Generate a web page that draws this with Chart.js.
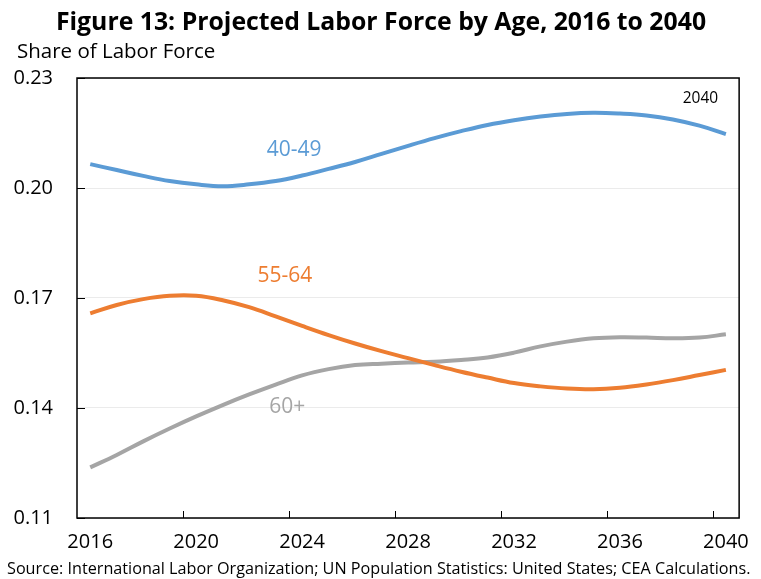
<!DOCTYPE html>
<html>
<head>
<meta charset="utf-8">
<style>
  html, body { margin: 0; padding: 0; background: #fff; }
  #wrap { width: 761px; height: 579px; }
</style>
<script src="https://cdn.jsdelivr.net/npm/chart.js@4.4.1/dist/chart.umd.min.js"></script>
</head>
<body>
<div id="wrap"><canvas id="c" width="761" height="579"></canvas></div>
<script>
// Labor force share by age group, annual projections
const years = [2016, 2017, 2018, 2019, 2020, 2021, 2022, 2023, 2024, 2025, 2026, 2027, 2028,
               2029, 2030, 2031, 2032, 2033, 2034, 2035, 2036, 2037, 2038, 2039, 2040];

const age40to49 = [0.2065, 0.2049, 0.2033, 0.2019, 0.2010, 0.2005, 0.2010, 0.2019, 0.2034, 0.2052,
                   0.2071, 0.2093, 0.2115, 0.2136, 0.2155, 0.2172, 0.2185, 0.2195, 0.2202, 0.2205,
                   0.2203, 0.2198, 0.2187, 0.2170, 0.2147];

const age55to64 = [0.1658, 0.1681, 0.1697, 0.1706, 0.1706, 0.1694, 0.1675, 0.1650, 0.1624, 0.1599,
                   0.1576, 0.1555, 0.1536, 0.1517, 0.1499, 0.1483, 0.1468, 0.1459, 0.1453, 0.1451,
                   0.1455, 0.1464, 0.1476, 0.1490, 0.1504];

const age60plus = [0.1238, 0.1272, 0.1309, 0.1344, 0.1377, 0.1408, 0.1437, 0.1464, 0.1489, 0.1506,
                   0.1517, 0.1521, 0.1524, 0.1526, 0.1531, 0.1538, 0.1551, 0.1568, 0.1581, 0.1590,
                   0.1593, 0.1592, 0.1590, 0.1592, 0.1601];

const yTickValues = [0.11, 0.14, 0.17, 0.20, 0.23];
const xTickYears = [2016, 2020, 2024, 2028, 2032, 2036, 2040];

const seriesNames = ['40-49', '55-64', '60+'];

const FONT = '"Open Sans", Lato, sans-serif';
const BLUE = '#5B9BD5', ORANGE = '#ED7D31', GRAY = '#A5A5A5';

Chart.defaults.color = '#000';
Chart.defaults.font.family = FONT;

// Series labels placed in data space (x = category index, y = share)
const seriesLabels = [
  { text: seriesNames[0], x: 7.7,  y: 0.2104, color: BLUE,   size: 21 },
  { text: seriesNames[1], x: 7.35, y: 0.1759, color: ORANGE, size: 21 },
  { text: seriesNames[2], x: 7.44, y: 0.1403, color: GRAY,   size: 21 },
  { text: String(years[years.length - 1]), x: 23.04, y: 0.2244, color: '#000', size: 15.5 }
];

const decorations = {
  id: 'decorations',
  afterDatasetsDraw(chart) {
    const { ctx, chartArea: a, scales: { x, y } } = chart;
    ctx.save();
    // frame
    ctx.strokeStyle = '#000';
    ctx.lineWidth = 1.5;
    ctx.strokeRect(a.left, a.top, a.right - a.left, a.bottom - a.top);
    // inside tick marks on the value axis
    ctx.lineWidth = 1;
    yTickValues.forEach(v => {
      const py = Math.round(y.getPixelForValue(v)) + 0.5;
      ctx.beginPath(); ctx.moveTo(a.left, py); ctx.lineTo(a.left + 8, py); ctx.stroke();
    });
    // inside tick marks between categories, every fourth year
    xTickYears.forEach(yr => {
      const i = years.indexOf(yr);
      if (i <= 0) return;
      const px = Math.round((x.getPixelForValue(i - 1) + x.getPixelForValue(i)) / 2) + 0.5;
      ctx.beginPath(); ctx.moveTo(px, a.bottom); ctx.lineTo(px, a.bottom - 7); ctx.stroke();
    });
    // series labels
    ctx.textAlign = 'center';
    ctx.textBaseline = 'middle';
    seriesLabels.forEach(l => {
      ctx.fillStyle = l.color;
      ctx.font = `${l.size}px ${FONT}`;
      ctx.fillText(l.text, x.getPixelForValue(l.x), y.getPixelForValue(l.y));
    });
    ctx.restore();
  },
  afterDraw(chart) {
    const { ctx } = chart;
    ctx.save();
    ctx.fillStyle = '#000';
    ctx.textBaseline = 'alphabetic';
    ctx.textAlign = 'center';
    ctx.font = `bold 24.8px ${FONT}`;
    ctx.fillText('Figure 13: Projected Labor Force by Age, 2016 to 2040', 381, 30);
    ctx.textAlign = 'left';
    ctx.font = `20.5px ${FONT}`;
    ctx.fillText('Share of Labor Force', 17, 58);
    ctx.font = `16.2px ${FONT}`;
    ctx.fillText('Source: International Labor Organization; UN Population Statistics: United States; CEA Calculations.', 7, 574);
    ctx.restore();
  }
};

const lineStyle = (color) => ({
  borderColor: color,
  backgroundColor: color,
  borderWidth: 4,
  pointRadius: 0,
  tension: 0.4,
  fill: false
});

new Chart(document.getElementById('c'), {
  type: 'line',
  data: {
    labels: years.map(String),
    datasets: [
      { label: seriesNames[0], data: age40to49, ...lineStyle(BLUE) },
      { label: seriesNames[1], data: age55to64, ...lineStyle(ORANGE) },
      { label: seriesNames[2], data: age60plus, ...lineStyle(GRAY) }
    ]
  },
  options: {
    responsive: false,
    animation: false,
    layout: { padding: { left: 0, right: 12, top: 78, bottom: 0 } },
    plugins: {
      legend: { display: false },
      title: { display: false },
      tooltip: { enabled: false }
    },
    scales: {
      x: {
        type: 'category',
        offset: true,
        grid: { display: false, drawTicks: false },
        border: { display: false },
        ticks: {
          autoSkip: false,
          maxRotation: 0,
          padding: 12,
          font: { size: 20, family: FONT },
          color: '#000',
          callback: (v, i) => xTickYears.includes(years[i]) ? String(years[i]) : ''
        },
        afterFit: s => { s.height = 61; }
      },
      y: {
        min: 0.11,
        max: 0.23,
        grid: { color: '#EBEBEB', lineWidth: 1, drawTicks: false },
        border: { display: false },
        afterBuildTicks: s => { s.ticks = yTickValues.map(v => ({ value: v })); },
        ticks: {
          padding: 24,
          font: { size: 20, family: FONT },
          color: '#000',
          callback: v => Number(v).toFixed(2)
        },
        afterFit: s => { s.width = 77; }
      }
    }
  },
  plugins: [decorations]
});
</script>
</body>
</html>
